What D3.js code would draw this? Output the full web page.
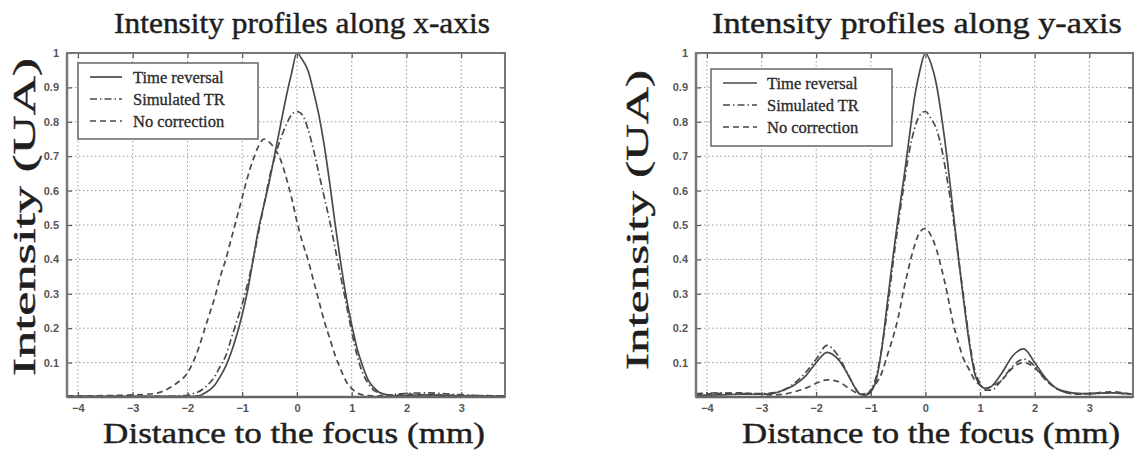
<!DOCTYPE html>
<html>
<head>
<meta charset="utf-8">
<script src="https://cdn.jsdelivr.net/npm/d3@7"></script>
<style>
  html, body { margin: 0; padding: 0; background: #fff; }
  svg { display: block; }
</style>
</head>
<body>
<svg id="chart" width="1140" height="451"></svg>
<script>
// ---------- DATA ----------
const seriesNames = ["Time reversal", "Simulated TR", "No correction"];
const xTicks = [-4, -3, -2, -1, 0, 1, 2, 3];
const yTicks = [0.1, 0.2, 0.3, 0.4, 0.5, 0.6, 0.7, 0.8, 0.9, 1];
const yTickLabels = ["0.1", "0.2", "0.3", "0.4", "0.5", "0.6", "0.7", "0.8", "0.9", "1"];
const titles = ["Intensity profiles along x-axis", "Intensity profiles along y-axis"];
const yAxisTitle = "Intensity (UA)";
const xAxisTitle = "Distance to the focus (mm)";

// Left panel: profiles along x-axis
const leftX = [-4.2, -3.5, -3.0, -2.6, -2.4, -2.2, -2.0, -1.9, -1.8, -1.7, -1.6, -1.5, -1.4, -1.3, -1.2, -1.1,
  -1.0, -0.9, -0.8, -0.7, -0.6, -0.5, -0.4, -0.3, -0.2, -0.1, 0, 0.1, 0.2, 0.3, 0.4, 0.5, 0.6, 0.7, 0.8, 0.9,
  1.0, 1.1, 1.2, 1.3, 1.4, 1.5, 1.6, 1.7, 1.8, 2.0, 2.4, 2.8, 3.2, 3.8];
const leftTR = [0.002, 0.002, 0.002, 0.002, 0.002, 0.002, 0.002, 0.002, 0.003, 0.01, 0.02, 0.035, 0.06, 0.09, 0.13, 0.18,
  0.24, 0.31, 0.40, 0.49, 0.56, 0.63, 0.71, 0.79, 0.87, 0.94, 1.0, 0.98, 0.95, 0.89, 0.82, 0.73, 0.62, 0.50, 0.39, 0.29,
  0.21, 0.14, 0.09, 0.05, 0.028, 0.014, 0.008, 0.004, 0.003, 0.004, 0.006, 0.004, 0.003, 0.002];
const leftSim = [0.002, 0.002, 0.002, 0.002, 0.002, 0.003, 0.005, 0.01, 0.015, 0.025, 0.04, 0.06, 0.09, 0.12, 0.17, 0.22,
  0.27, 0.33, 0.40, 0.48, 0.56, 0.64, 0.70, 0.75, 0.79, 0.82, 0.83, 0.82, 0.78, 0.72, 0.65, 0.58, 0.51, 0.43, 0.35, 0.27,
  0.19, 0.12, 0.07, 0.04, 0.02, 0.012, 0.008, 0.006, 0.008, 0.01, 0.012, 0.008, 0.005, 0.003];
const leftNoCorr = [0.003, 0.004, 0.006, 0.01, 0.02, 0.04, 0.07, 0.10, 0.14, 0.19, 0.24, 0.29, 0.35, 0.40, 0.46, 0.52,
  0.58, 0.64, 0.69, 0.73, 0.75, 0.74, 0.72, 0.69, 0.64, 0.58, 0.51, 0.45, 0.40, 0.34, 0.28, 0.22, 0.17, 0.12, 0.08, 0.045,
  0.025, 0.012, 0.006, 0.004, 0.003, 0.003, 0.004, 0.005, 0.006, 0.008, 0.006, 0.005, 0.004, 0.003];

// Right panel: profiles along y-axis
const rightX = [-4.2, -3.8, -3.4, -3.0, -2.8, -2.6, -2.4, -2.2, -2.0, -1.8, -1.6, -1.4, -1.3, -1.2, -1.1, -1.0,
  -0.9, -0.8, -0.7, -0.6, -0.5, -0.4, -0.3, -0.2, -0.1, 0, 0.1, 0.2, 0.3, 0.4, 0.5, 0.6, 0.7, 0.8, 0.9, 1.0,
  1.1, 1.2, 1.4, 1.6, 1.8, 2.0, 2.2, 2.4, 2.6, 2.8, 3.0, 3.4, 3.8];
const rightTR = [0.005, 0.006, 0.008, 0.008, 0.01, 0.02, 0.035, 0.06, 0.10, 0.13, 0.11, 0.06, 0.03, 0.008, 0.005, 0.015,
  0.05, 0.14, 0.27, 0.40, 0.52, 0.63, 0.75, 0.87, 0.95, 1.0, 0.97, 0.91, 0.81, 0.69, 0.55, 0.41, 0.28, 0.16, 0.07, 0.035,
  0.025, 0.03, 0.07, 0.12, 0.14, 0.10, 0.055, 0.025, 0.015, 0.01, 0.01, 0.012, 0.008];
const rightSim = [0.01, 0.012, 0.01, 0.01, 0.012, 0.02, 0.04, 0.07, 0.11, 0.15, 0.12, 0.06, 0.03, 0.01, 0.008, 0.02,
  0.06, 0.14, 0.25, 0.38, 0.50, 0.61, 0.71, 0.78, 0.82, 0.83, 0.81, 0.78, 0.72, 0.63, 0.53, 0.41, 0.29, 0.17, 0.08, 0.04,
  0.02, 0.02, 0.05, 0.09, 0.11, 0.09, 0.05, 0.025, 0.012, 0.01, 0.01, 0.012, 0.006];
const rightNoCorr = [0.008, 0.01, 0.012, 0.008, 0.006, 0.008, 0.015, 0.025, 0.04, 0.05, 0.045, 0.025, 0.015, 0.008, 0.01, 0.02,
  0.04, 0.07, 0.12, 0.17, 0.23, 0.31, 0.38, 0.44, 0.48, 0.49, 0.47, 0.43, 0.37, 0.30, 0.22, 0.16, 0.11, 0.08, 0.05, 0.035,
  0.025, 0.03, 0.05, 0.085, 0.10, 0.085, 0.05, 0.025, 0.012, 0.008, 0.01, 0.015, 0.008];

// ---------- DRAW ----------
const svg = d3.select("#chart");
const serif = "'Liberation Serif', 'DejaVu Serif', serif";
const sans = "'Liberation Sans', Arial, sans-serif";
const lineColor = "#4a4a4a";
const dashes = [null, "7,3,1.5,3", "6,4"];

const panels = [
  { x0: 67, x1: 505, y0: 53, y1: 397, xs: leftX, series: [leftTR, leftSim, leftNoCorr],
    title: titles[0], titleX: 302, titleLen: 376,
    yTitleX: 35, yTitleY: 217, yTitleLen: 318,
    xTitleX: 294, xTitleY: 443, xTitleSize: 30, xTitleLen: 382,
    legend: { x: 78, y: 63, w: 180, h: 76, sx0: 90, sx1: 122, tx: 133, rows: [77, 99, 121] } },
  { x0: 696, x1: 1133, y0: 53, y1: 397, xs: rightX, series: [rightTR, rightSim, rightNoCorr],
    title: titles[1], titleX: 917, titleLen: 410,
    yTitleX: 648, yTitleY: 220, yTitleLen: 300,
    xTitleX: 931, xTitleY: 443, xTitleSize: 30, xTitleLen: 378,
    legend: { x: 711, y: 69, w: 181, h: 77, sx0: 723, sx1: 757, tx: 767, rows: [83, 105, 127] } }
];

// stretch a text along its own direction to a target length
function stretchText(parent, str, cx, cy, rot, fontSize, target) {
  const g = parent.append("g");
  const t = g.append("text").attr("text-anchor", "middle")
    .attr("font-family", serif).attr("font-size", fontSize).attr("fill", "#1e1e1e")
    .attr("stroke", "#1e1e1e").attr("stroke-width", 0.45).text(str);
  const w = t.node().getComputedTextLength();
  const s = target / w;
  g.attr("transform", `translate(${cx},${cy}) rotate(${rot}) scale(${s},1)`);
  return g;
}

panels.forEach((p, pi) => {
  const g = svg.append("g");
  const x = d3.scaleLinear().domain([-4.2, 3.8]).range([p.x0, p.x1]);
  const y = d3.scaleLinear().domain([0, 1]).range([p.y1, p.y0]);

  // grid
  g.append("g").selectAll("line").data(xTicks).join("line")
    .attr("x1", d => x(d)).attr("x2", d => x(d)).attr("y1", p.y0).attr("y2", p.y1)
    .attr("stroke", "#9a9a9a").attr("stroke-width", 1).attr("stroke-dasharray", "1.5,2.5");
  g.append("g").selectAll("line").data(yTicks.filter(v => v < 1)).join("line")
    .attr("x1", p.x0).attr("x2", p.x1).attr("y1", d => y(d)).attr("y2", d => y(d))
    .attr("stroke", "#9a9a9a").attr("stroke-width", 1).attr("stroke-dasharray", "1.5,2.5");

  // clip
  const clipId = "clip" + pi;
  svg.append("clipPath").attr("id", clipId).append("rect")
    .attr("x", p.x0).attr("y", p.y0 - 2).attr("width", p.x1 - p.x0).attr("height", p.y1 - p.y0 + 2);

  // lines
  const lineGen = d3.line().x((d, i) => x(p.xs[i])).y(d => y(d)).curve(d3.curveMonotoneX);
  p.series.forEach((vals, si) => {
    g.append("path").attr("d", lineGen(vals)).attr("fill", "none")
      .attr("clip-path", `url(#${clipId})`)
      .attr("stroke", lineColor).attr("stroke-width", 1.7)
      .attr("stroke-dasharray", dashes[si]);
  });

  // axes (inward ticks)
  const axB = d3.axisBottom(x).tickValues(xTicks).tickSize(-5).tickFormat(d3.format("d")).tickPadding(7);
  const axT = d3.axisTop(x).tickValues(xTicks).tickSize(-5).tickFormat("");
  const axL = d3.axisLeft(y).tickValues(yTicks).tickSize(-5).tickFormat((d, i) => yTickLabels[i]).tickPadding(8);
  const axR = d3.axisRight(y).tickValues(yTicks).tickSize(-5).tickFormat("");
  const styleAxis = sel => {
    sel.select(".domain").remove();
    sel.selectAll("line").attr("stroke", "#555").attr("stroke-width", 1.2);
    sel.selectAll("text").attr("fill", "#555").attr("font-family", sans).attr("font-size", 11).attr("font-weight", "bold");
  };
  g.append("g").attr("transform", `translate(0,${p.y1})`).call(axB).call(styleAxis);
  g.append("g").attr("transform", `translate(0,${p.y0})`).call(axT).call(styleAxis);
  g.append("g").attr("transform", `translate(${p.x0},0)`).call(axL).call(styleAxis);
  g.append("g").attr("transform", `translate(${p.x1},0)`).call(axR).call(styleAxis);

  // frame
  g.append("rect").attr("x", p.x0).attr("y", p.y0).attr("width", p.x1 - p.x0).attr("height", p.y1 - p.y0)
    .attr("fill", "none").attr("stroke", "#777").attr("stroke-width", 2);
  g.append("line").attr("x1", p.x0).attr("x2", p.x1).attr("y1", p.y1).attr("y2", p.y1)
    .attr("stroke", "#666").attr("stroke-width", 2.5);
  g.append("line").attr("x1", p.x0).attr("x2", p.x0).attr("y1", p.y0).attr("y2", p.y1)
    .attr("stroke", "#777").attr("stroke-width", 2.5);

  // legend
  const L = p.legend;
  const lg = g.append("g");
  lg.append("rect").attr("x", L.x).attr("y", L.y).attr("width", L.w).attr("height", L.h)
    .attr("fill", "#fff").attr("stroke", "#666").attr("stroke-width", 1.5);
  seriesNames.forEach((name, si) => {
    lg.append("line").attr("x1", L.sx0).attr("x2", L.sx1).attr("y1", L.rows[si]).attr("y2", L.rows[si])
      .attr("stroke", lineColor).attr("stroke-width", 1.7).attr("stroke-dasharray", dashes[si]);
    lg.append("text").attr("x", L.tx).attr("y", L.rows[si]).attr("dy", "0.35em")
      .attr("font-family", serif).attr("font-size", 16.5).attr("fill", "#2a2a2a")
      .attr("stroke", "#2a2a2a").attr("stroke-width", 0.3).text(name);
  });

  // titles
  stretchText(g, p.title, p.titleX, 33, 0, 30, p.titleLen);
  stretchText(g, yAxisTitle, p.yTitleX, p.yTitleY, -90, 32, p.yTitleLen);
  stretchText(g, xAxisTitle, p.xTitleX, p.xTitleY, 0, p.xTitleSize, p.xTitleLen);
});
</script>
</body>
</html>
